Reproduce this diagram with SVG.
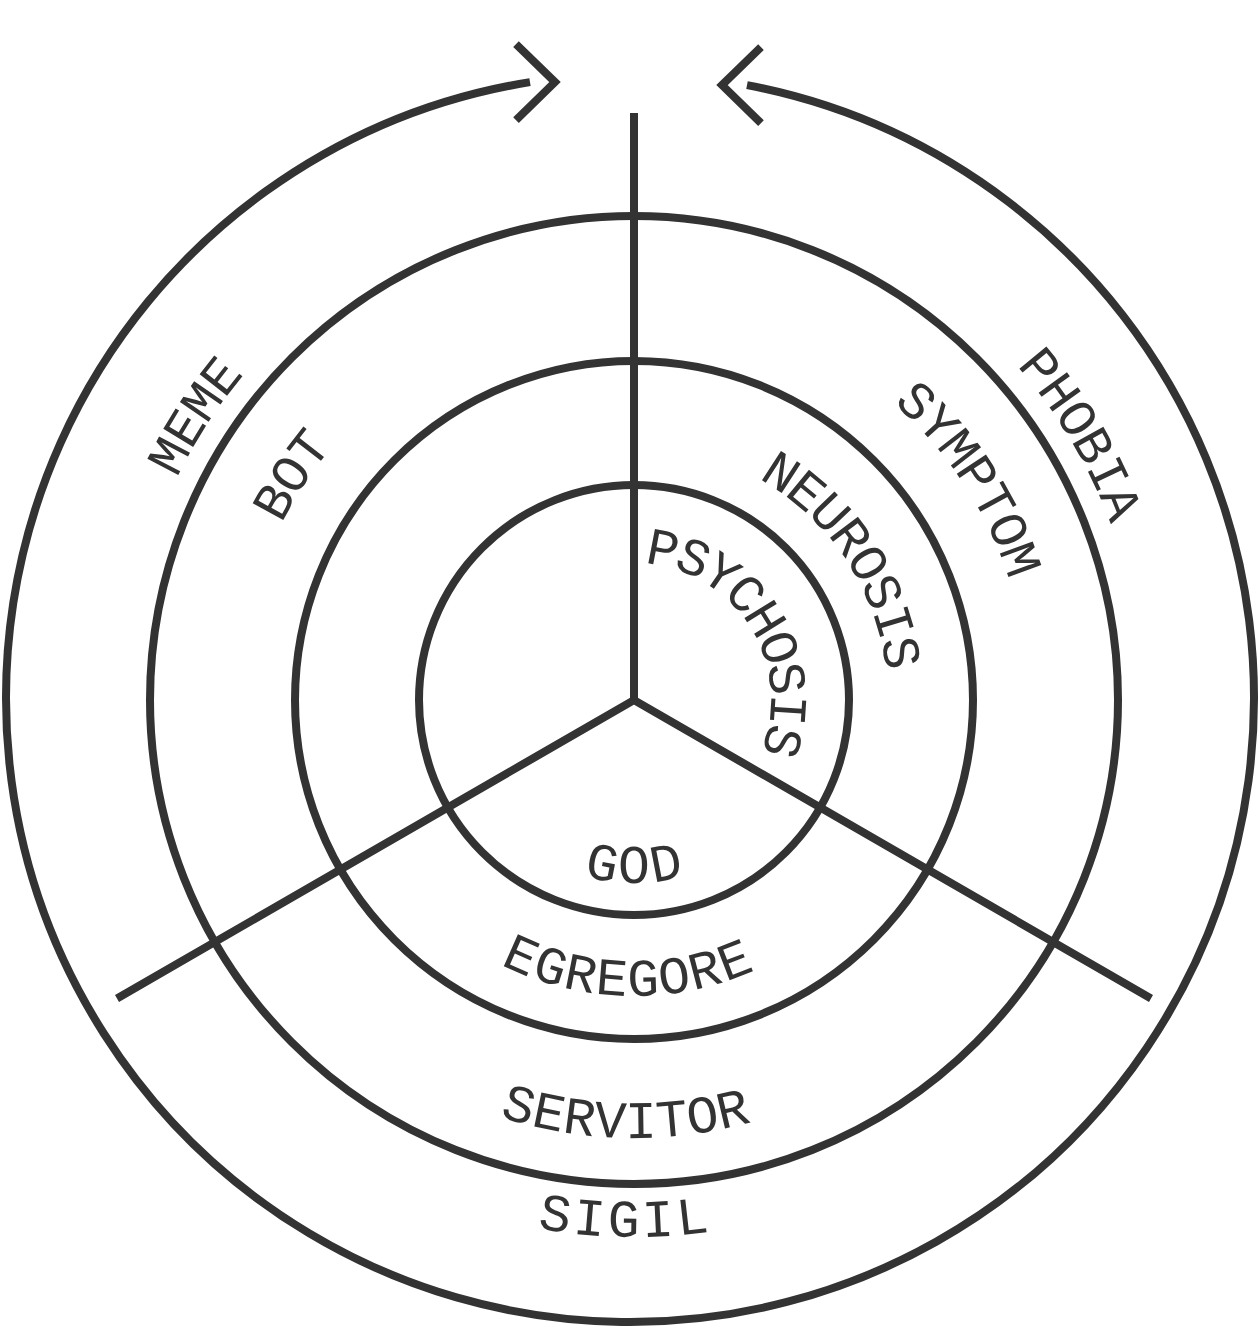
<svg xmlns="http://www.w3.org/2000/svg" width="1259" height="1328" viewBox="0 0 1259 1328">
<style>
.ln{fill:none;stroke:#333;stroke-width:8}
.lbl{font-family:"Liberation Mono","DejaVu Sans Mono",monospace;font-size:53px;fill:#333;text-anchor:middle}
</style>
<defs>
<marker id="chevStart" markerUnits="userSpaceOnUse" viewBox="-50 -50 100 100" markerWidth="100" markerHeight="100" refX="0" refY="0" orient="0">
<path d="M -14 -38 L 25 0 L -14 38" fill="none" stroke="#333" stroke-width="8"/>
</marker>
<marker id="chevEnd" markerUnits="userSpaceOnUse" viewBox="-50 -50 100 100" markerWidth="100" markerHeight="100" refX="0" refY="0" orient="180">
<path d="M -14 -38 L 25 0 L -14 38" fill="none" stroke="#333" stroke-width="8"/>
</marker>
<path id="t154" d="M 482.34 673.26 A 154 154 0 0 1 785.66 673.26"/>
<path id="t271" d="M 367.12 652.94 A 271 271 0 0 1 900.88 652.94"/>
<path id="t411" d="M 229.24 628.63 A 411 411 0 0 1 1038.76 628.63"/>
<path id="t525" d="M 116.97 608.83 A 525 525 0 0 1 1151.03 608.83"/>
<path id="b166" d="M 470.52 728.83 A 166 166 0 0 0 797.48 728.83"/>
<path id="b279" d="M 359.24 748.45 A 279 279 0 0 0 908.76 748.45"/>
<path id="b421" d="M 219.39 773.11 A 421 421 0 0 0 1048.61 773.11"/>
<path id="b520" d="M 121.90 790.30 A 520 520 0 0 0 1146.10 790.30"/>
</defs>
<rect width="1259" height="1328" fill="#fff"/>
<g id="rings">
<circle class="ln" cx="634" cy="700" r="215"/>
<circle class="ln" cx="634" cy="700" r="339"/>
<circle class="ln" cx="634" cy="700" r="484"/>
</g>
<g id="spokes">
<path class="ln" d="M 634 113 L 634 700"/>
<path class="ln" d="M 117 998.5 L 634 700 L 1151 998.5" stroke-linejoin="miter"/>
</g>
<g id="connectors">
<path class="ln" d="M 530 82.1 A 624 624 0 1 0 747 85.1" marker-start="url(#chevStart)" marker-end="url(#chevEnd)"/>
</g>
<g id="psychosis" transform="rotate(58.3 634 700)"><text class="lbl"><textPath href="#t154" startOffset="50%"><tspan dy="17">PSYCHOSIS</tspan></textPath></text></g>
<g id="neurosis" transform="rotate(56.4 634 700)"><text class="lbl"><textPath href="#t271" startOffset="50%"><tspan dy="17">NEUROSIS</tspan></textPath></text></g>
<g id="symptom" transform="rotate(56.7 634 700)"><text class="lbl"><textPath href="#t411" startOffset="50%"><tspan dy="17">SYMPTOM</tspan></textPath></text></g>
<g id="phobia" transform="rotate(59.3 634 700)"><text class="lbl"><textPath href="#t525" startOffset="50%"><tspan dy="17">PHOBIA</tspan></textPath></text></g>
<g id="bot" transform="rotate(-56.7 634 700)"><text class="lbl"><textPath href="#t411" startOffset="50%"><tspan dy="17">BOT</tspan></textPath></text></g>
<g id="meme" transform="rotate(-57.1 634 700)"><text class="lbl"><textPath href="#t525" startOffset="50%"><tspan dy="17">MEME</tspan></textPath></text></g>
<g id="god"><text class="lbl"><textPath href="#b166" startOffset="50%"><tspan dy="17">GOD</tspan></textPath></text></g>
<g id="egregore" transform="rotate(1.4 634 700)"><text class="lbl" letter-spacing="-0.6"><textPath href="#b279" startOffset="50%"><tspan dy="17">EGREGORE</tspan></textPath></text></g>
<g id="servitor" transform="rotate(1.2 634 700)"><text class="lbl" letter-spacing="-1"><textPath href="#b421" startOffset="50%"><tspan dy="17">SERVITOR</tspan></textPath></text></g>
<g id="sigil" transform="rotate(1.0 634 700)"><text class="lbl" letter-spacing="2.5"><textPath href="#b520" startOffset="50%"><tspan dy="17">SIGIL</tspan></textPath></text></g>
</svg>
